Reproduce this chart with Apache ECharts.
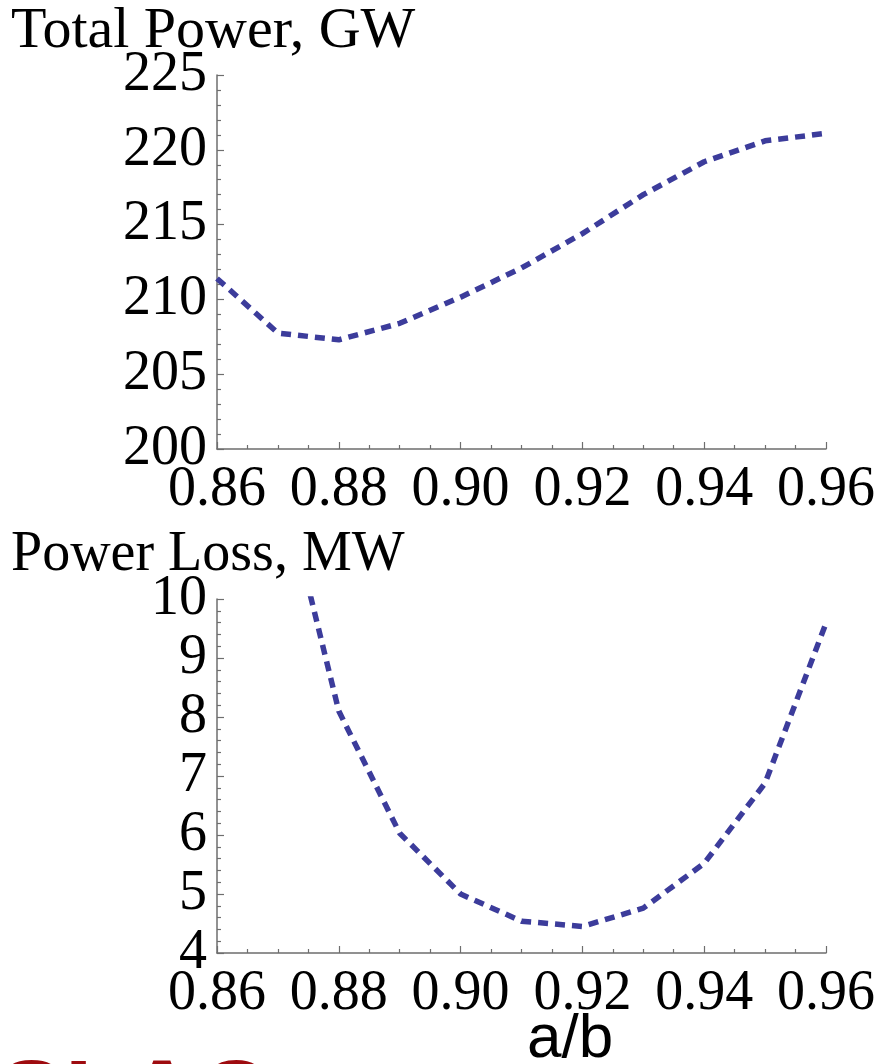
<!DOCTYPE html>
<html>
<head>
<meta charset="utf-8">
<script src="https://cdn.jsdelivr.net/npm/echarts@6/dist/echarts.min.js"></script>
<style>
  html, body { margin: 0; padding: 0; background: #ffffff; }
  #chart { width: 881px; height: 1064px; }
</style>
</head>
<body>
<div id="chart"></div>
<script>
// Aspect ratio a/b sampled in steps of 0.01
const ratio = [0.86, 0.87, 0.88, 0.89, 0.90, 0.91, 0.92, 0.93, 0.94, 0.95, 0.96];
// Total power in GW
const totalPowerGW = [211.4, 207.75, 207.3, 208.4, 210.15, 212.1, 214.4, 217.0, 219.2, 220.6, 221.1];
// Power loss in MW (the 0.86 value is off-scale and not drawn)
const powerLossMW = [null, 12.3, 8.1, 6.03, 5.0, 4.54, 4.45, 4.76, 5.52, 6.88, 9.59];

const xTicks = { min: 0.86, max: 0.96, step: 0.02 };
const topTicks = { min: 200, max: 225, step: 5 };
const bottomTicks = { min: 4, max: 10, step: 1 };

const serif = '"Liberation Serif", "DejaVu Serif", serif';
const lineColor = '#3c3c9b';
const axisGray = '#6e6e6e';

function pairs(xs, ys) {
  const out = [];
  xs.forEach((x, i) => { if (ys[i] !== null) out.push([x, ys[i]]); });
  return out;
}

function xAxisFor(gridIndex) {
  return {
    type: 'value', gridIndex,
    min: xTicks.min, max: xTicks.max, interval: xTicks.step,
    axisLine: { show: true, onZero: false, lineStyle: { color: axisGray, width: 1.5 } },
    axisTick: { show: true, inside: true, length: 7, lineStyle: { color: axisGray, width: 1.2 } },
    minorTick: { show: true, splitNumber: 4, length: 4, lineStyle: { color: axisGray, width: 1.2 } },
    splitLine: { show: false },
    axisLabel: {
      color: '#000', fontFamily: serif, fontSize: 56, margin: 13,
      formatter: v => v.toFixed(2), showMinLabel: true, showMaxLabel: true
    }
  };
}

function yAxisFor(gridIndex, t) {
  return {
    type: 'value', gridIndex,
    min: t.min, max: t.max, interval: t.step,
    axisLine: { show: true, onZero: false, lineStyle: { color: axisGray, width: 1.5 } },
    axisTick: { show: true, inside: true, length: 7, lineStyle: { color: axisGray, width: 1.2 } },
    minorTick: { show: true, splitNumber: 5, length: 4, lineStyle: { color: axisGray, width: 1.2 } },
    splitLine: { show: false },
    axisLabel: {
      color: '#000', fontFamily: serif, fontSize: 56, margin: 10,
      showMinLabel: true, showMaxLabel: true
    }
  };
}

function lineSeries(idx, data) {
  return {
    type: 'line', xAxisIndex: idx, yAxisIndex: idx,
    data, showSymbol: false, smooth: false, clip: true,
    lineStyle: { color: lineColor, width: 5.5, type: [10, 7], cap: 'butt' },
    silent: true, animation: false
  };
}

const chart = echarts.init(document.getElementById('chart'), null, { renderer: 'canvas' });
chart.setOption({
  animation: false,
  backgroundColor: '#ffffff',
  grid: [
    { left: 217, top: 75, width: 609, height: 374 },
    { left: 217, top: 599, width: 609, height: 354 }
  ],
  xAxis: [xAxisFor(0), xAxisFor(1)],
  yAxis: [yAxisFor(0, topTicks), yAxisFor(1, bottomTicks)],
  series: [
    lineSeries(0, pairs(ratio, totalPowerGW)),
    lineSeries(1, pairs(ratio, powerLossMW))
  ],
  graphic: [
    { type: 'text', x: 11, y: 3, silent: true,
      style: { text: 'Total Power, GW', font: '58px ' + serif, fill: '#000' } },
    { type: 'text', x: 11, y: 527, silent: true,
      style: { text: 'Power Loss, MW', font: '56px ' + serif, fill: '#000' } },
    { type: 'text', x: 527, y: 1009, silent: true,
      style: { text: 'a/b', font: '62px "Liberation Sans", Arial, sans-serif', fill: '#000' } },
    { type: 'text', x: -2, y: 1052, silent: true,
      style: { text: 'SLAC', font: 'bold 100px "Liberation Sans", Arial, sans-serif', fill: '#9e0b0f' } }
  ]
});
</script>
</body>
</html>
